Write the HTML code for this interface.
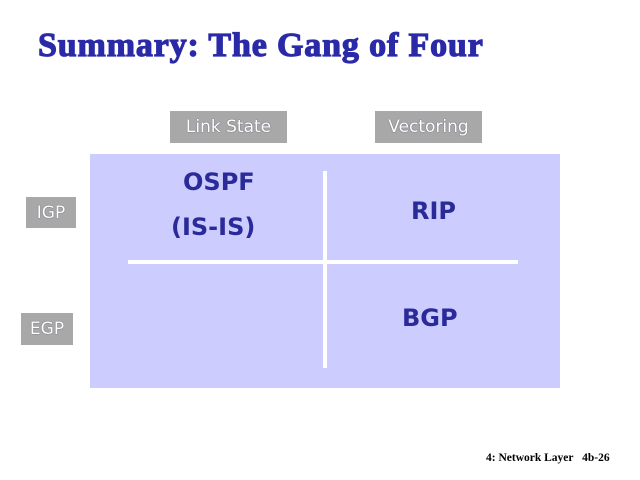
<!DOCTYPE html>
<html><head><meta charset="utf-8"><style>
html,body{margin:0;padding:0;width:640px;height:480px;background:#fff;overflow:hidden;position:relative}
div{position:absolute;white-space:nowrap}
.t{font-family:"Liberation Serif",serif;font-weight:bold;color:#2a2aa8;font-size:34px;left:38px;top:27px;letter-spacing:0.85px;-webkit-text-stroke:1.2px #2a2aa8}
.g{background:#a8a8a8;color:#fff;font-family:"DejaVu Sans",sans-serif;font-size:17px;text-align:center;line-height:32px;text-shadow:0 0 1px #335}
.k{font-family:"DejaVu Sans",sans-serif;font-weight:bold;color:#2a2a98;font-size:24px}
.b{background:#ccccff;left:90px;top:154px;width:470px;height:234px}
.w{background:#fff}
.f{font-family:"Liberation Serif",serif;font-weight:bold;font-size:11.5px;left:486px;top:452px;color:#000}
</style></head><body>
<div class="t">Summary: The Gang of Four</div>
<div class="g" style="left:170px;top:111px;width:117px;height:32px">Link State</div>
<div class="g" style="left:375px;top:111px;width:107px;height:32px">Vectoring</div>
<div class="g" style="left:26px;top:197px;width:50px;height:31px">IGP</div>
<div class="g" style="left:21px;top:313px;width:52px;height:32px">EGP</div>
<div class="b"></div>
<div class="w" style="left:323px;top:171px;width:4px;height:197px"></div>
<div class="w" style="left:128px;top:260px;width:390px;height:4px"></div>
<div class="k" style="left:183px;top:168px">OSPF</div>
<div class="k" style="left:171px;top:213px">(IS-IS)</div>
<div class="k" style="left:411px;top:197px">RIP</div>
<div class="k" style="left:402px;top:304px">BGP</div>
<div class="f">4: Network Layer&nbsp;&nbsp; 4b-26</div>
</body></html>
